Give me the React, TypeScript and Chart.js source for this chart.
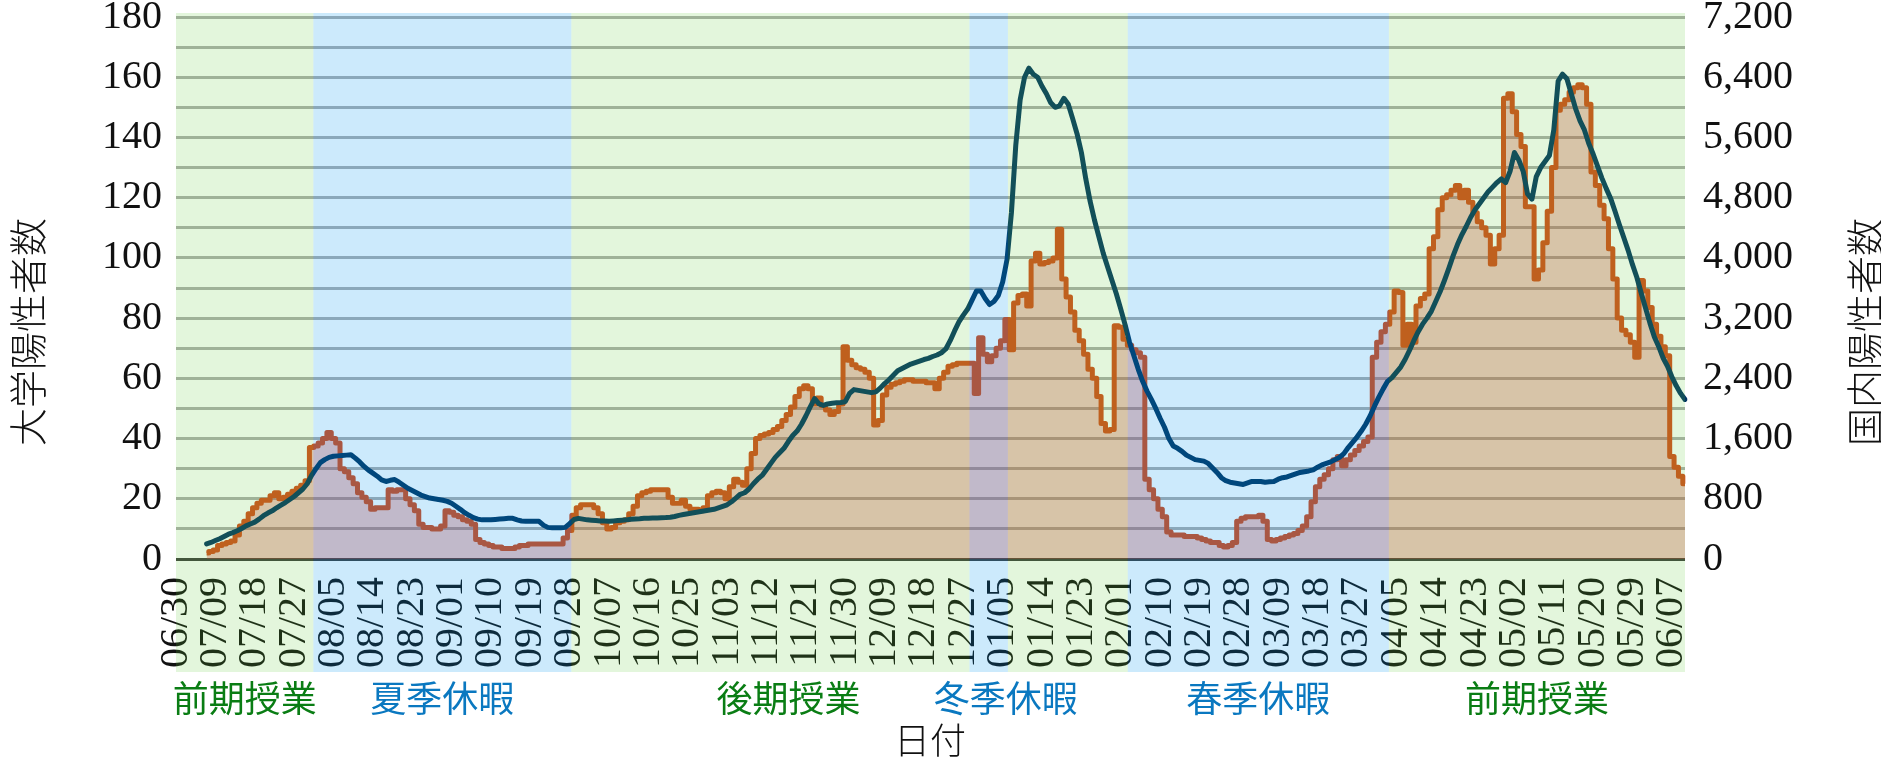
import React, { useEffect, useRef } from 'react';
import { Chart, registerables } from 'chart.js';

Chart.register(...registerables);

// ---------------- data ----------------
const FIRST_DATE = { year: 2020, month: 6, day: 30 };
const DAY_COUNT = 346; // 06/30 .. 06/10
const TICK_EVERY = 9;

const dateLabels: string[] = Array.from({ length: DAY_COUNT }, (_, i) => {
  const d = new Date(FIRST_DATE.year, FIRST_DATE.month - 1, FIRST_DATE.day + i);
  return `${String(d.getMonth() + 1).padStart(2, '0')}/${String(d.getDate()).padStart(2, '0')}`;
});

// 大学陽性者数 (left axis), from 06/30; first 7 days have no data
const universityPositives: (number | null)[] = [
  null, null, null, null, null, null, null,
  2, 2.5, 3, 4.5, 5, 5.5, 6, 8, 11, 12.5,
  15, 17, 18.5, 19.5, 19.5, 21, 22, 20, 20.5, 21.5,
  22.5, 23.5, 24.5, 26, 37, 37.5, 38.5, 40, 42, 40,
  38.5, 30, 29, 27, 25, 22, 20.5, 19, 16.5, 17,
  17, 17, 23, 22.5, 23, 23, 20, 18, 16, 11.5,
  10.5, 10.5, 10, 10, 11, 16, 15.5, 14.5, 14, 13,
  12.5, 11.5, 6.5, 5.5, 5, 4.5, 4, 4, 3.5, 3.5,
  3.5, 4, 4.5, 4.5, 5, 5, 5, 5, 5, 5,
  5, 5, 7, 9.5, 14.5, 17, 18, 18, 18, 17,
  15, 12, 10, 10.5, 12, 12.5, 13, 15, 17.5, 21,
  22, 22.5, 23, 23, 23, 23, 20.5, 18.5, 18.5, 19.5,
  17.5, 16.5, 16.5, 16, 17, 21, 22, 22.5, 22, 20,
  24, 26.5, 25.5, 24.5, 30, 35, 40, 41, 41.5, 42,
  43, 44, 46, 48, 50.5, 54, 56.5, 57.5, 56.5, 51.5,
  53.5, 51, 49.5, 48, 49, 51.5, 70.5, 66, 64.5, 63.5,
  63, 62, 60, 44.5, 46, 54.5, 57, 58, 58.5, 59,
  59.5, 59.5, 59, 59, 59, 58.5, 58.5, 56.5, 60, 62,
  64, 64.5, 65, 65, 65, 65, 55, 73.5, 68, 65.5,
  67.5, 70, 72.5, 79.5, 69.5, 85, 87.5, 88, 84, 99,
  101.5, 98, 98.5, 99, 100, 109.5, 93, 87, 82, 76,
  72.5, 68, 63, 60, 54, 45, 42.5, 43, 77.5, 77,
  73, 71, 69.5, 68.5, 67, 26.5, 23, 20, 16.5, 14,
  9, 8, 8, 8, 7.5, 7.5, 7.5, 7, 6.5, 6,
  5.5, 5.5, 4.5, 4, 4.5, 5.5, 12.5, 13.5, 14, 14,
  14, 14.5, 12.5, 6.5, 6, 6.5, 7, 7.5, 8, 8.5,
  9.5, 11, 14, 19, 24, 26.5, 28, 30, 33, 34,
  31, 33, 34.5, 36, 37.5, 39, 40.5, 67, 72, 75.5,
  78, 82, 89, 88.5, 71, 78, 72, 84, 86.5, 88,
  103, 107, 116, 120, 121, 122.5, 124, 120, 122.5, 118.5,
  115, 112, 110, 107.5, 98, 103, 107.5, 153, 154.5, 148.5,
  141, 137, 117, 117, 93, 96, 105, 115.5, 130, 149,
  151, 152.5, 155, 156.5, 157.5, 156.5, 151, 128.5, 124, 117.5,
  113, 103, 93, 80, 76, 74.5, 72, 67, 92.5, 89,
  83.5, 78, 74, 70.5, 67.5, 34, 30.5, 27.5, 25,
];

// 国内陽性者数 (right axis)
const nationalPositives: (number | null)[] = [
  null, null, null, null, null, null, null,
  200, 220, 245, 270, 300, 330, 350, 375, 405, 440,
  465, 490, 530, 575, 610, 640, 680, 715, 750, 790,
  830, 880, 930, 1000, 1110, 1200, 1280, 1320, 1350, 1365,
  1370, 1375, 1380, 1385, 1340, 1290, 1230, 1180, 1140, 1100,
  1050, 1030, 1045, 1055, 1020, 980, 940, 910, 880, 850,
  830, 810, 800, 790, 780, 765, 740, 700, 660, 615,
  580, 550, 530, 520, 520, 520, 525, 530, 535, 540,
  540, 520, 505, 500, 500, 500, 500, 450, 420, 415,
  415, 415, 420, 470, 525, 540, 530, 520, 515, 510,
  505, 505, 500, 505, 510, 515, 520, 528, 532, 535,
  540, 542, 545, 546, 548, 550, 555, 565, 580, 590,
  600, 610, 620, 630, 640, 650, 660, 680, 700, 720,
  760, 810, 860, 880, 930, 1000, 1060, 1110, 1190, 1270,
  1350, 1410, 1470, 1560, 1640, 1700, 1790, 1900, 2020, 2130,
  2060, 2040, 2060, 2070, 2075, 2080, 2090, 2200, 2250, 2240,
  2230, 2220, 2210, 2220, 2270, 2330, 2380, 2440, 2500, 2530,
  2560, 2590, 2610, 2630, 2650, 2665, 2690, 2710, 2740, 2790,
  2900, 3030, 3150, 3240, 3320, 3440, 3560, 3560, 3460, 3380,
  3420, 3500, 3680, 3980, 4600, 5500, 6100, 6400, 6520, 6440,
  6400, 6280, 6180, 6060, 6000, 6020, 6120, 6040, 5850, 5650,
  5400, 5050, 4750, 4500, 4280, 4060, 3880, 3700, 3520, 3320,
  3110, 2880, 2700, 2520, 2360, 2230, 2120, 2000, 1870, 1750,
  1600, 1500, 1470, 1430, 1380, 1350, 1320, 1310, 1300, 1270,
  1210, 1150, 1080, 1040, 1020, 1010, 1000, 990, 1010, 1030,
  1030, 1030, 1020, 1025, 1030, 1060, 1080, 1090, 1110, 1130,
  1150, 1160, 1170, 1185, 1220, 1250, 1270, 1290, 1320, 1350,
  1400, 1480, 1550, 1620, 1700, 1790, 1900, 2030, 2150, 2260,
  2360, 2410, 2480, 2550, 2650, 2770, 2900, 3020, 3120, 3200,
  3290, 3420, 3550, 3700, 3860, 4030, 4180, 4310, 4420, 4540,
  4640, 4720, 4800, 4880, 4940, 5000, 5050, 5000, 5150, 5400,
  5300, 5150, 4850, 4780, 5080, 5200, 5280, 5360, 5700, 6350,
  6440, 6380, 6180, 5980, 5820, 5700, 5520, 5380, 5220, 5060,
  4920, 4790, 4620, 4440, 4270, 4100, 3910, 3740, 3530, 3330,
  3130, 2950, 2820, 2670, 2560, 2420, 2300, 2200, 2120,
];

// academic periods (day-index boundaries)
const periodNames = ['前期授業', '夏季休暇', '後期授業', '冬季休暇', '後期授業', '春季休暇', '前期授業'];
const periodKinds = ['class', 'break', 'class', 'break', 'class', 'break', 'class'];
const periodStarts = [0, 31.4, 90.4, 181.4, 190.2, 217.6, 277.3];
const periodEnds = [31.4, 90.4, 181.4, 190.2, 217.6, 277.3, 345];

// period captions shown under the axis (index into periods)
const captionPeriods = [0, 1, 2, 3, 5, 6];

// ---------------- styles ----------------
const SERIF = '"Liberation Serif", "Times New Roman", serif';
const CJK = '"Noto Sans CJK JP", "Noto Sans", sans-serif';
const UNI_LINE = 'rgb(212,72,24)';
const UNI_FILL = 'rgba(208,52,45,0.3)';
const NAT_LINE = 'rgb(0,52,96)';
const CLASS_OVERLAY = 'rgba(100,205,60,0.18)';
const BREAK_OVERLAY = 'rgba(0,150,240,0.2)';
const CLASS_TEXT = '#0a7d14';
const BREAK_TEXT = '#0a78c0';

const W = 1881;
const H = 759;
const PLOT_LEFT = 176;
const PLOT_RIGHT = 1685;
const PLOT_TOP = 17;
const PLOT_BOTTOM = 559;
const BAND_TOP = 13;
const BAND_BOTTOM = 672;
const CAPTION_Y = 696;
const CAPTION_SHIFT: Record<number, number> = { 2: 18, 3: 17 };

const bandPlugin = {
  id: 'periodBands',
  afterDraw(chart: any) {
    const { ctx } = chart;
    const x = chart.scales.x;
    ctx.save();
    for (let i = 0; i < periodStarts.length; i++) {
      const x1 = x.getPixelForValue(periodStarts[i]);
      const x2 = x.getPixelForValue(periodEnds[i]);
      ctx.fillStyle = periodKinds[i] === 'break' ? BREAK_OVERLAY : CLASS_OVERLAY;
      ctx.fillRect(x1, BAND_TOP, x2 - x1, BAND_BOTTOM - BAND_TOP);
    }
    ctx.restore();
  },
};

const noPad = (s: any) => {
  s.paddingTop = 0;
  s.paddingBottom = 0;
  s.paddingLeft = 0;
  s.paddingRight = 0;
};

export default function App() {
  const canvasRef = useRef<HTMLCanvasElement>(null);

  useEffect(() => {
    const canvas = canvasRef.current;
    if (!canvas) return;
    const chart = new Chart(canvas, {
      type: 'line',
      data: {
        labels: dateLabels,
        datasets: [
          {
            label: '国内陽性者数',
            data: nationalPositives,
            yAxisID: 'yR',
            borderColor: NAT_LINE,
            borderWidth: 5,
            pointRadius: 0,
            fill: false,
            tension: 0,
            borderJoinStyle: 'round',
            borderCapStyle: 'round',
            order: 0,
          },
          {
            label: '大学陽性者数',
            data: universityPositives,
            yAxisID: 'yL',
            borderColor: UNI_LINE,
            backgroundColor: UNI_FILL,
            borderWidth: 5,
            pointRadius: 0,
            fill: 'origin',
            stepped: 'middle',
            borderJoinStyle: 'round',
            order: 1,
          },
        ],
      },
      options: {
        responsive: false,
        animation: false,
        devicePixelRatio: 1,
        layout: { padding: { top: PLOT_TOP, left: 0, right: 0, bottom: 0 } },
        plugins: { legend: { display: false }, tooltip: { enabled: false } },
        scales: {
          x: {
            type: 'category',
            offset: false,
            grid: { display: false },
            border: { display: false },
            ticks: {
              autoSkip: false,
              minRotation: 90,
              maxRotation: 90,
              padding: 10,
              color: '#111',
              font: { family: SERIF, size: 40 },
              callback: (_v: any, i: number) => (i % TICK_EVERY === 0 ? dateLabels[i] : ''),
            },
            afterFit: (s: any) => {
              s.height = H - PLOT_BOTTOM;
              noPad(s);
            },
          },
          yL: {
            position: 'left',
            min: 0,
            max: 180,
            border: { display: false },
            grid: {
              drawTicks: false,
              lineWidth: 3,
              color: (c: any) => (c.tick && c.tick.value === 0 ? '#3c3c3c' : '#adadad'),
            },
            ticks: {
              stepSize: 10,
              autoSkip: false,
              padding: 14,
              color: '#111',
              font: { family: SERIF, size: 40 },
              callback: (v: any) => (Number(v) % 20 === 0 ? String(v) : ''),
            },
            afterFit: (s: any) => {
              s.width = PLOT_LEFT;
              noPad(s);
            },
          },
          yR: {
            position: 'right',
            min: 0,
            max: 7200,
            border: { display: false },
            grid: { drawOnChartArea: false, drawTicks: false },
            ticks: {
              stepSize: 400,
              autoSkip: false,
              padding: 18,
              color: '#111',
              font: { family: SERIF, size: 40 },
              callback: (v: any) => (Number(v) % 800 === 0 ? Number(v).toLocaleString('en-US') : ''),
            },
            afterFit: (s: any) => {
              s.width = W - PLOT_RIGHT;
              noPad(s);
            },
          },
        },
      } as any,
      plugins: [bandPlugin],
    });
    return () => chart.destroy();
  }, []);

  const dayToPx = (d: number) => PLOT_LEFT + (d / (DAY_COUNT - 1)) * (PLOT_RIGHT - PLOT_LEFT);

  const titleStyle = (left: number, top: number, rotate: boolean): React.CSSProperties => ({
    position: 'absolute',
    left,
    top,
    transform: `translate(-50%, -50%)${rotate ? ' rotate(-90deg)' : ''}`,
    whiteSpace: 'nowrap',
    fontFamily: CJK,
    fontWeight: 300,
    fontSize: 38,
    lineHeight: 1,
    color: '#111',
  });

  return (
    <div style={{ position: 'absolute', left: 0, top: 0, width: W, height: H, background: '#fff', overflow: 'hidden' }}>
      <canvas ref={canvasRef} width={W} height={H} style={{ position: 'absolute', left: 0, top: 0, width: W, height: H }} />
      {captionPeriods.map((pi) => (
        <div
          key={pi}
          style={{
            position: 'absolute',
            left: (dayToPx(periodStarts[pi]) + dayToPx(periodEnds[pi])) / 2 + (CAPTION_SHIFT[pi] || 0),
            top: CAPTION_Y,
            transform: 'translate(-50%, -50%)',
            whiteSpace: 'nowrap',
            fontFamily: CJK,
            fontSize: 36,
            lineHeight: 1,
            color: periodKinds[pi] === 'break' ? BREAK_TEXT : CLASS_TEXT,
          }}
        >
          {periodNames[pi]}
        </div>
      ))}
      <div style={{ ...titleStyle(930, 738, false), fontSize: 36 }}>日付</div>
      <div style={titleStyle(26, 332, true)}>大学陽性者数</div>
      <div style={titleStyle(1863, 332, true)}>国内陽性者数</div>
    </div>
  );
}
